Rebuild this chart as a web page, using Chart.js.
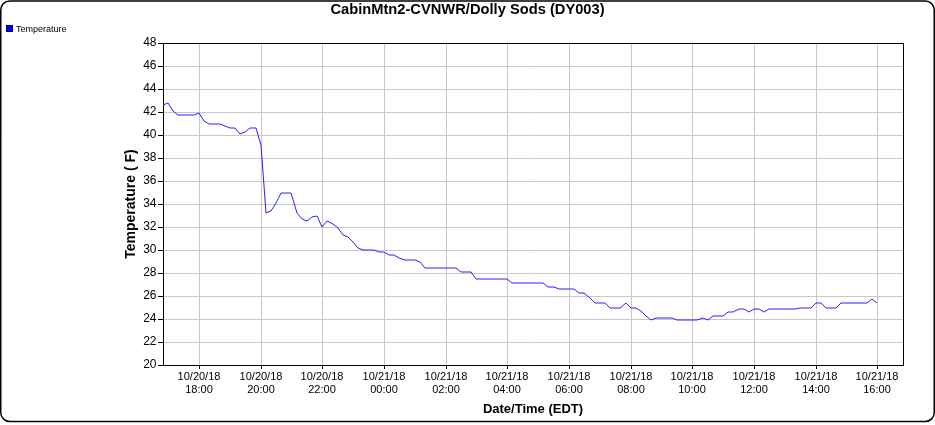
<!DOCTYPE html>
<html>
<head>
<meta charset="utf-8">
<script src="https://cdn.jsdelivr.net/npm/chart.js@4.4.1/dist/chart.umd.min.js"></script>
<style>
html,body{margin:0;padding:0;background:#fff;}
#wrap{width:935px;height:425px;position:relative;}
canvas{display:block;}
</style>
</head>
<body>
<div id="wrap"><canvas id="c" width="935" height="425"></canvas></div>
<script>
// ---- chart text ----
const chartTitle = 'CabinMtn2-CVNWR/Dolly Sods (DY003)';
const seriesName = 'Temperature';
const xAxisTitle = 'Date/Time (EDT)';
const yAxisTitle = 'Temperature ( F)';

// ---- time axis (10-minute samples) ----
const firstSampleDate = '10/20/18';
const firstSampleTime = '16:50';
const sampleIntervalMinutes = 10;
const axisStart = ['10/20/18', '16:50'];
const axisEnd = ['10/21/18', '16:50'];

// ---- temperature readings (F), one per sample ----
const temperatures = [
  42.6, 42.8, 42.1, 41.7, 41.7, 41.7, 41.7, 41.9, 41.2, 41.0,
  41.0, 41.0, 40.8, 40.6, 40.6, 40.1, 40.3, 40.6, 40.6, 39.1,
  33.2, 33.4, 34.1, 35.0, 35.0, 35.0, 33.2, 32.7, 32.5, 32.9,
  33.0, 32.0, 32.5, 32.3, 31.95, 31.3, 31.1, 30.7, 30.2, 30.0,
  30.0, 30.0, 29.8, 29.8, 29.6, 29.6, 29.3, 29.1, 29.1, 29.1,
  28.95, 28.4, 28.4, 28.4, 28.4, 28.4, 28.4, 28.4, 28.05, 28.05,
  28.05, 27.47, 27.47, 27.47, 27.47, 27.47, 27.47, 27.47, 27.1, 27.1,
  27.1, 27.1, 27.1, 27.1, 27.1, 26.8, 26.8, 26.64, 26.64, 26.64,
  26.64, 26.27, 26.27, 25.8, 25.4, 25.4, 25.4, 25.0, 25.0, 25.0,
  25.4, 25.0, 24.94, 24.68, 24.3, 23.92, 24.07, 24.07, 24.07, 24.07,
  23.92, 23.92, 23.92, 23.92, 23.92, 24.07, 23.92, 24.3, 24.3, 24.3,
  24.64, 24.64, 24.84, 24.84, 24.6, 24.84, 24.84, 24.64, 24.84, 24.84,
  24.84, 24.84, 24.84, 24.84, 25.0, 25.0, 25.0, 25.4, 25.4, 25.0,
  25.0, 25.0, 25.4, 25.4, 25.4, 25.4, 25.4, 25.4, 25.74, 25.36
];

// ---- x tick labels ----
const tickDates = ['10/20/18','10/20/18','10/20/18','10/21/18','10/21/18','10/21/18',
                   '10/21/18','10/21/18','10/21/18','10/21/18','10/21/18','10/21/18'];
const tickTimes = ['18:00','20:00','22:00','00:00','02:00','04:00',
                   '06:00','08:00','10:00','12:00','14:00','16:00'];

// ---- y axis ----
const yMin = 20, yMax = 48, yStep = 2;

// minutes since the first sample
function minutesOf(date, time) {
  const day = parseInt(date.split('/')[1], 10);
  const [h, m] = time.split(':').map(Number);
  return day * 1440 + h * 60 + m;
}
const origin = minutesOf(firstSampleDate, firstSampleTime);
const rel = (d, t) => minutesOf(d, t) - origin;
const tickPositions = tickDates.map((d, i) => rel(d, tickTimes[i]));
const points = temperatures.map((v, i) => ({ x: i * sampleIntervalMinutes, y: v }));

const FONT = "'Liberation Sans', Arial, Helvetica, sans-serif";
Chart.defaults.font.family = FONT;
Chart.defaults.color = '#000';

const decor = {
  id: 'decor',
  afterDraw(chart) {
    const ctx = chart.ctx;
    const a = chart.chartArea;
    ctx.save();
    // plot frame (top/right)
    ctx.strokeStyle = '#000';
    ctx.lineWidth = 1;
    ctx.beginPath();
    ctx.moveTo(Math.round(a.left) + 0.5, Math.round(a.top) + 0.5);
    ctx.lineTo(Math.round(a.right) + 0.5, Math.round(a.top) + 0.5);
    ctx.lineTo(Math.round(a.right) + 0.5, Math.round(a.bottom) + 0.5);
    ctx.stroke();
    // outer rounded border
    ctx.lineWidth = 1.5;
    ctx.beginPath();
    ctx.roundRect(0.75, 1, 933.5, 420.5, 9);
    ctx.stroke();
    // title
    ctx.fillStyle = '#000';
    ctx.font = "bold 14.7px " + FONT;
    ctx.textAlign = 'center';
    ctx.textBaseline = 'alphabetic';
    ctx.fillText(chartTitle, 467.5, 13.5);
    // legend
    ctx.fillStyle = '#0000ff';
    ctx.fillRect(7, 26, 5, 5);
    ctx.strokeStyle = '#000066';
    ctx.lineWidth = 1;
    ctx.strokeRect(6.5, 25.5, 6, 6);
    ctx.fillStyle = '#000';
    ctx.font = "9px " + FONT;
    ctx.textAlign = 'left';
    ctx.fillText(seriesName, 16, 32.3);
    ctx.restore();
  }
};

new Chart(document.getElementById('c'), {
  type: 'line',
  data: {
    datasets: [{
      label: seriesName,
      data: points,
      borderColor: '#2222ff',
      backgroundColor: '#0000ff',
      borderWidth: 1,
      pointRadius: 0,
      tension: 0,
      fill: false
    }]
  },
  options: {
    responsive: false,
    animation: false,
    devicePixelRatio: 1,
    layout: { padding: { left: 0, top: 43, right: 32, bottom: 0 } },
    plugins: { legend: { display: false }, title: { display: false }, tooltip: { enabled: false } },
    scales: {
      x: {
        type: 'linear',
        min: rel(axisStart[0], axisStart[1]),
        max: rel(axisEnd[0], axisEnd[1]),
        alignToPixels: true,
        afterBuildTicks: s => { s.ticks = tickPositions.map(v => ({ value: v })); },
        afterFit: s => { s.height = 60; },
        ticks: {
          autoSkip: false, maxRotation: 0, minRotation: 0,
          color: '#000', padding: 2,
          font: { size: 11, lineHeight: 1.15 },
          callback: v => {
            const i = tickPositions.indexOf(v);
            return i >= 0 ? [tickDates[i], tickTimes[i]] : '';
          }
        },
        grid: { color: '#c8c8c8', lineWidth: 1, tickColor: '#000', tickLength: 4, drawTicks: true },
        border: { color: '#000', width: 1 },
        title: { display: true, text: xAxisTitle, color: '#000',
                 font: { size: 13, weight: 'bold' }, padding: { top: 0, bottom: 7.5 } }
      },
      y: {
        min: yMin, max: yMax,
        alignToPixels: true,
        afterFit: s => { s.width = 163; },
        ticks: { stepSize: yStep, color: '#000', padding: 1.5, font: { size: 12 } },
        grid: { color: '#c8c8c8', lineWidth: 1, tickColor: '#000', tickLength: 5 },
        border: { color: '#000', width: 1 },
        title: { display: true, text: yAxisTitle, color: '#000',
                 font: { size: 14, weight: 'bold' }, padding: { top: 122.4, bottom: 0 } }
      }
    }
  },
  plugins: [decor]
});
</script>
</body>
</html>
